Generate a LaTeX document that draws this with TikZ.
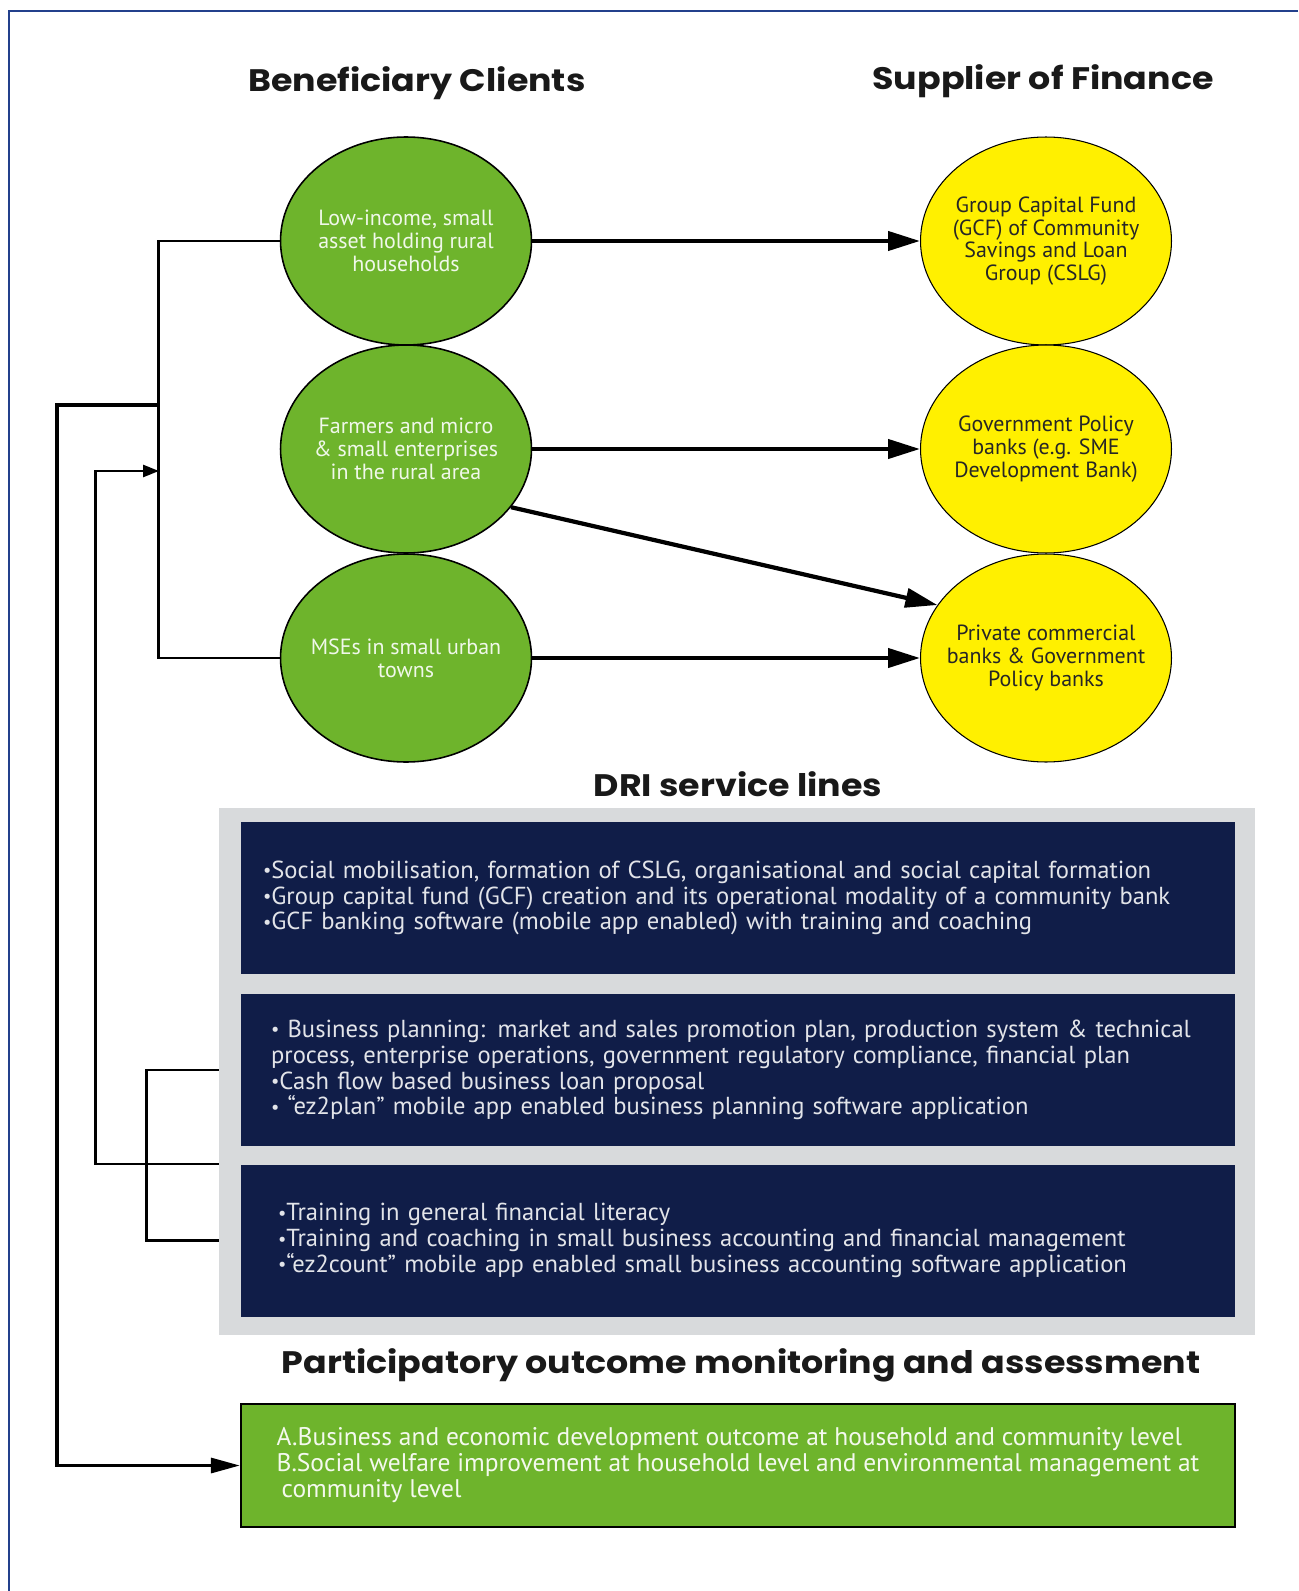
\documentclass[tikz,border=0pt]{standalone}
\usepackage{fontspec}
\setmainfont{PT Sans}
\newfontfamily\headfont[FakeStretch=1.12]{Poppins}
\usetikzlibrary{shapes.geometric,arrows.meta}

\definecolor{leafgreen}{RGB}{110,180,44}
\definecolor{sunyellow}{RGB}{255,240,0}
\definecolor{navybox}{RGB}{16,29,72}
\definecolor{panelgray}{RGB}{216,218,220}
\definecolor{frameblue}{RGB}{35,64,140}
\newcommand{\bul}{\raisebox{0.12ex}{\scalebox{0.75}{\textbullet}}}

\begin{document}
\begin{tikzpicture}[x=0.02cm, y=-0.02cm,
  client/.style={ellipse, draw=black, line width=0.9pt, fill=leafgreen,
    minimum width=5.02cm, minimum height=4.16cm, inner xsep=-0.5cm, inner ysep=0pt,
    align=center, text=white!90!leafgreen, font=\fontsize{12.5}{12.9}\selectfont},
  lender/.style={client, fill=sunyellow, line width=0.6pt, text=black!85},
  heading/.style={font=\headfont\bfseries\fontsize{17.7}{20}\selectfont, text=black!90},
  service/.style={rectangle, fill=navybox, minimum width=19.88cm, minimum height=3.04cm,
    align=left, text=white!88!navybox, font=\fontsize{14}{14.7}\selectfont},
  flow/.style={line width=2.4pt, -{Triangle[length=6.4mm,width=3.8mm]}},
  link/.style={line width=1.5pt}]

  \useasboundingbox (0,0) rectangle (1298,1591);
  % frame, only its top and left sides are in view
  \draw[frameblue, line width=1.2pt] (1298,11) -| (9,1591);

  % column headings
  \node[heading] (hclient) at (417,83) {Beneficiary Clients};
  \node[heading] (hfinance) at (1043,81) {Supplier of Finance};

  % beneficiary clients
  \node[client] (cl1) at (406,241) {Low-income, small\\asset holding rural\\households};
  \node[client] (cl2) at (406,449) {Farmers and micro\\\& small enterprises\\in the rural area};
  \node[client] (cl3) at (406,658) {MSEs in small urban\\towns};

  % suppliers of finance
  \node[lender] (fin1) at (1046,241) {Group Capital Fund\\(GCF) of Community\\Savings and Loan\\Group (CSLG)};
  \node[lender] (fin2) at (1046,449) {Government Policy\\banks (e.g. SME\\Development Bank)};
  \node[lender] (fin3) at (1046,658) {Private commercial\\banks \& Government\\Policy banks};

  \draw[flow] (cl1) -- (fin1);
  \draw[flow] (cl2) -- (fin2);
  \draw[flow] (cl2.-29) -- (fin3.154);
  \draw[flow] (cl3) -- (fin3);

  % DRI service lines
  \node[heading] (hdri) at (738,784) {DRI service lines};
  \node[fill=panelgray, minimum width=20.72cm, minimum height=10.54cm] (dri) at (737,1071.5) {};
  \node[service, text width=19cm] (s1) at (738,898) {%
    \bul Social mobilisation, formation of CSLG, organisational and social capital formation\\
    \bul Group capital fund (GCF) creation and its operational modality of a community bank\\
    \bul GCF banking software (mobile app enabled) with training and coaching};
  \node[service, text width=18.68cm] (s2) at (738,1070) {%
    \bul\ Business planning: market and sales promotion plan, production system \& technical\\
    process, enterprise operations, government regulatory compliance, financial plan\\
    \bul Cash flow based business loan proposal\\
    \bul\ “ez2plan” mobile app enabled business planning software application};
  \node[service, text width=18.4cm] (s3) at (738,1240.5) {%
    \bul Training in general financial literacy\\
    \bul Training and coaching in small business accounting and financial management\\
    \bul “ez2count” mobile app enabled small business accounting software application};

  % outcome monitoring
  \node[heading] (hmon) at (741,1365) {Participatory outcome monitoring and assessment};
  \node[draw=black, line width=1.4pt, fill=leafgreen, minimum width=19.88cm, minimum height=2.46cm,
    align=left, text=white!92!leafgreen, font=\fontsize{14.5}{14.8}\selectfont] (outcome) at (738,1465.5) {%
    A.Business and economic development outcome at household and community level\\
    B.Social welfare improvement at household level and environmental management at\\
    \hspace{0.1cm}community level};

  % connectors on the left
  \coordinate (tap) at (159,405);
  \coordinate (back) at (159,471);
  \draw[link] (cl1.west) -- ++(-121,0) |- (cl3.west);
  \draw[link, line width=1.8pt, -{Triangle[length=5.8mm,width=3mm]}] (tap) -- ++(-102,0) |- (outcome.west);
  \draw[link, -{Triangle[length=3.2mm,width=2.4mm]}] (dri.west |- s3.north) -- ++(-123,0) |- (back);
  \draw[link] (dri.west |- s2.east) -- ++(-72,0) |- (dri.west |- s3.east);
\end{tikzpicture}
\end{document}
